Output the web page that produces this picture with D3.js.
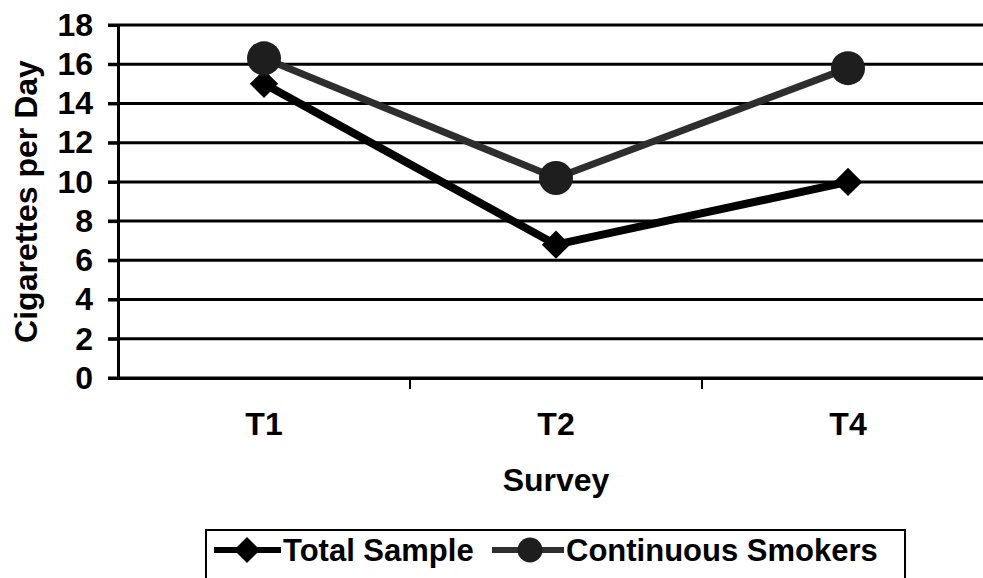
<!DOCTYPE html>
<html lang="en">
    <head>
        <meta charset="utf-8">
        <title>Cigarettes per Day</title>
        <script src="https://cdn.jsdelivr.net/npm/d3@7/dist/d3.min.js"></script>
        <style>
            body { margin: 0; background: #fff; }
            text { font-family: "Liberation Sans", Arial, sans-serif; font-weight: bold; fill: #000; }
        </style>
    </head>
    <body>
        <script type="text/javascript">

            // survey waves and the two series
            var surveys = ["T1", "T2", "T4"];
            var totalSample = [15.0, 6.8, 10.0];
            var continuousSmokers = [16.3, 10.2, 15.8];
            var yTicks = [0, 2, 4, 6, 8, 10, 12, 14, 16, 18];
            var seriesNames = ["Total Sample", "Continuous Smokers"];

            // width, height and plot edges
            var w = 983;
            var h = 578;
            var plotLeft = 118;
            var plotRight = 994;
            var plotTop = 25;
            var plotBottom = 378;

            var svg = d3.select("body")
                        .append("svg")
                        .attr("width", w)
                        .attr("height", h);

            // scales
            var xScale = d3.scaleBand()
                           .domain(surveys)
                           .range([plotLeft, plotRight]);

            var yScale = d3.scaleLinear()
                           .domain([0, 18])
                           .range([plotBottom, plotTop]);

            var xMid = function(d) { return xScale(d) + xScale.bandwidth() / 2; };

            // horizontal grid lines plus the tick stubs on the left
            svg.selectAll("line.grid")
               .data(yTicks)
               .enter()
               .append("line")
               .attr("class", "grid")
               .attr("x1", plotLeft - 10)
               .attr("x2", plotRight)
               .attr("y1", function(d) { return yScale(d); })
               .attr("y2", function(d) { return yScale(d); })
               .attr("stroke", "#000")
               .attr("stroke-width", 3);

            // y axis
            var yAxis = svg.append("g")
               .attr("transform", "translate(" + plotLeft + ",0)")
               .call(d3.axisLeft(yScale).tickValues(yTicks).tickSize(10).tickPadding(15));
            yAxis.select(".domain").attr("stroke-width", 3);
            yAxis.selectAll(".tick line").attr("stroke-width", 3);
            yAxis.selectAll("text").style("font-size", "32px");

            // x axis, ticks sit between the categories
            var xAxis = svg.append("g")
               .attr("transform", "translate(0," + plotBottom + ")")
               .call(d3.axisBottom(xScale).tickSize(0).tickPadding(34));
            xAxis.select(".domain").attr("stroke-width", 3);
            xAxis.selectAll("text").style("font-size", "32px");

            svg.selectAll("line.xtick")
               .data(surveys.slice(1))
               .enter()
               .append("line")
               .attr("class", "xtick")
               .attr("x1", function(d) { return xScale(d); })
               .attr("x2", function(d) { return xScale(d); })
               .attr("y1", plotBottom)
               .attr("y2", plotBottom + 11)
               .attr("stroke", "#000")
               .attr("stroke-width", 2);

            // axis titles
            svg.append("text")
               .attr("x", (plotLeft + plotRight) / 2)
               .attr("y", 491)
               .attr("text-anchor", "middle")
               .style("font-size", "32px")
               .text("Survey");

            svg.append("text")
               .attr("transform", "rotate(-90)")
               .attr("x", -(plotTop + plotBottom) / 2)
               .attr("y", 37)
               .attr("text-anchor", "middle")
               .style("font-size", "32px")
               .text("Cigarettes per Day");

            // lines
            var line = d3.line()
               .x(function(d, i) { return xMid(surveys[i]); })
               .y(function(d) { return yScale(d); });

            svg.append("path")
               .datum(totalSample)
               .attr("d", line)
               .attr("fill", "none")
               .attr("stroke", "#000")
               .attr("stroke-width", 8);

            svg.append("path")
               .datum(continuousSmokers)
               .attr("d", line)
               .attr("fill", "none")
               .attr("stroke", "#2e2e2e")
               .attr("stroke-width", 7);

            // diamonds for total sample
            var diamond = d3.symbol().type(d3.symbolSquare).size(400);
            svg.selectAll("path.diamond")
               .data(totalSample)
               .enter()
               .append("path")
               .attr("class", "diamond")
               .attr("d", diamond)
               .attr("transform", function(d, i) {
                   return "translate(" + xMid(surveys[i]) + "," + yScale(d) + ") rotate(45)";
               })
               .attr("fill", "#000");

            // circles for continuous smokers
            svg.selectAll("circle.dot")
               .data(continuousSmokers)
               .enter()
               .append("circle")
               .attr("class", "dot")
               .attr("cx", function(d, i) { return xMid(surveys[i]); })
               .attr("cy", function(d) { return yScale(d); })
               .attr("r", 17)
               .attr("fill", "#1e1e1e");

            // legend box
            svg.append("rect")
               .attr("x", 206)
               .attr("y", 530)
               .attr("width", 699)
               .attr("height", 60)
               .attr("fill", "#fff")
               .attr("stroke", "#000")
               .attr("stroke-width", 2);

            var legend = svg.append("g");

            // total sample entry
            legend.append("line")
               .attr("x1", 214).attr("x2", 281)
               .attr("y1", 550).attr("y2", 550)
               .attr("stroke", "#000").attr("stroke-width", 6);
            legend.append("path")
               .attr("d", d3.symbol().type(d3.symbolSquare).size(340))
               .attr("transform", "translate(247,550) rotate(45)")
               .attr("fill", "#000");
            legend.append("text")
               .attr("x", 283).attr("y", 561)
               .style("font-size", "31px")
               .text(seriesNames[0]);

            // continuous smokers entry
            legend.append("line")
               .attr("x1", 492).attr("x2", 564)
               .attr("y1", 550).attr("y2", 550)
               .attr("stroke", "#2e2e2e").attr("stroke-width", 6);
            legend.append("circle")
               .attr("cx", 530).attr("cy", 550)
               .attr("r", 12.5)
               .attr("fill", "#1e1e1e");
            legend.append("text")
               .attr("x", 566).attr("y", 561)
               .style("font-size", "31px")
               .text(seriesNames[1]);

        </script>
    </body>
</html>
